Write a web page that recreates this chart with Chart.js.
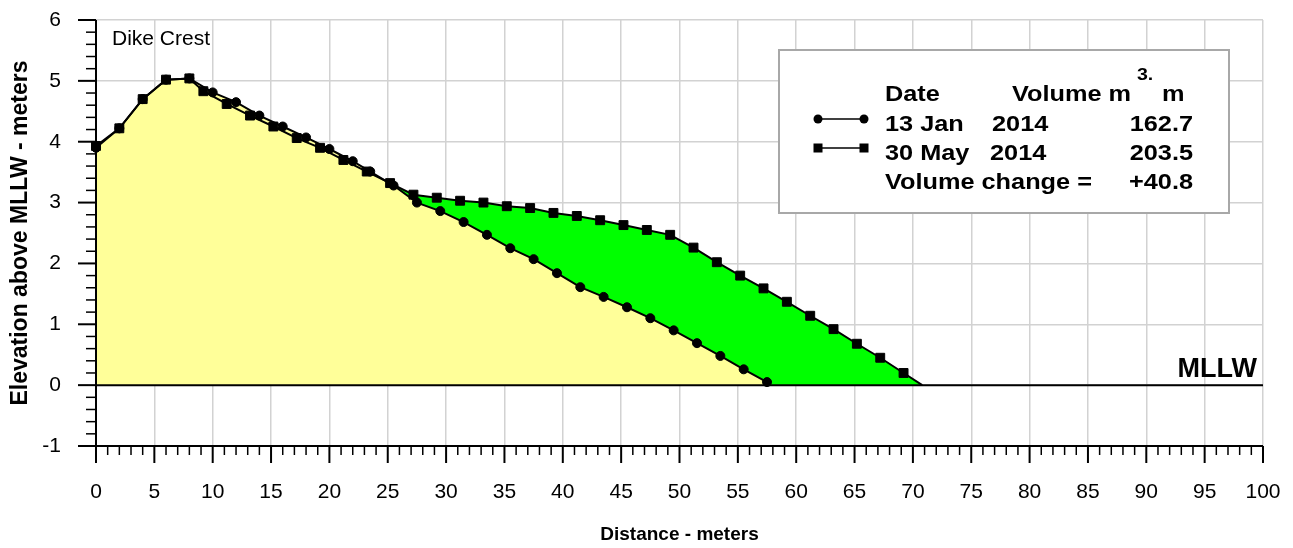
<!DOCTYPE html>
<html>
<head>
<meta charset="utf-8">
<script src="https://cdn.jsdelivr.net/npm/chart.js@4/dist/chart.umd.min.js"></script>
<style>
html,body{margin:0;padding:0;background:#fff;}
#wrap{width:1293px;height:548px;}
</style>
</head>
<body>
<div id="wrap"><canvas id="c" width="1293" height="548"></canvas></div>
<script>
// ---- data ----
const janX = [0,2,4,6,8,10,12,14,16,18,20,22,23.5,25.5,27.5,29.5,31.5,33.5,35.5,37.5,39.5,41.5,43.5,45.5,47.5,49.5,51.5,53.5,55.5,57.5];
const janY = [3.90,4.22,4.70,5.02,5.04,4.81,4.65,4.43,4.25,4.07,3.88,3.68,3.51,3.28,3.00,2.86,2.68,2.47,2.25,2.07,1.84,1.61,1.45,1.28,1.10,0.90,0.69,0.48,0.26,0.05];
const mayX = [0,2,4,6,8,9.2,11.2,13.2,15.2,17.2,19.2,21.2,23.2,25.2,27.2,29.2,31.2,33.2,35.2,37.2,39.2,41.2,43.2,45.2,47.2,49.2,51.2,53.2,55.2,57.2,59.2,61.2,63.2,65.2,67.2,69.2,70.8];
const mayY = [3.93,4.22,4.70,5.02,5.04,4.83,4.62,4.43,4.25,4.06,3.90,3.70,3.51,3.32,3.13,3.08,3.03,3.00,2.94,2.91,2.83,2.78,2.71,2.63,2.55,2.47,2.26,2.02,1.80,1.59,1.37,1.14,0.92,0.68,0.45,0.20,0.00];
const xTickLabels = [0,5,10,15,20,25,30,35,40,45,50,55,60,65,70,75,80,85,90,95,100];
const yTickLabels = [-1,0,1,2,3,4,5,6];
const legendDates = ['13 Jan', '30 May'];
const legendYears = ['2014', '2014'];
const legendVolumes = ['162.7', '203.5'];
const volumeChange = '+40.8';

const FONT = '"Liberation Sans", Arial, Helvetica, sans-serif';
const near = (a, b) => Math.abs(a - b) < 1e-6;
const isMajorX = v => xTickLabels.some(t => near(t, v));
const isMajorY = v => yTickLabels.some(t => near(t, v));
const pts = (xs, ys) => xs.map((x, i) => ({x: x, y: ys[i]}));

function txt(ctx, s, x, y, font, align, sx) {
  ctx.save();
  ctx.translate(x, y);
  ctx.scale(sx || 1, 1);
  ctx.font = font;
  ctx.textAlign = align || 'left';
  ctx.textBaseline = 'alphabetic';
  ctx.fillStyle = '#000';
  ctx.fillText(s, 0, 0);
  ctx.restore();
}

const decor = {
  id: 'decor',
  afterDraw(chart) {
    const ctx = chart.ctx, xs = chart.scales.x, ys = chart.scales.y, a = chart.chartArea;
    ctx.save();
    ctx.strokeStyle = '#000';
    const y0 = ys.getPixelForValue(0);
    ctx.lineWidth = 2;
    ctx.beginPath(); ctx.moveTo(xs.getPixelForValue(0), y0); ctx.lineTo(xs.getPixelForValue(100), y0); ctx.stroke();
    ctx.beginPath(); ctx.moveTo(a.left, a.top); ctx.lineTo(a.left, a.bottom); ctx.lineTo(a.right, a.bottom); ctx.stroke();
    xs.ticks.forEach(t => {
      const p = xs.getPixelForValue(t.value), m = isMajorX(t.value);
      ctx.lineWidth = m ? 2 : 1.5;
      ctx.beginPath(); ctx.moveTo(p, a.bottom); ctx.lineTo(p, a.bottom + (m ? 17 : 9)); ctx.stroke();
    });
    ys.ticks.forEach(t => {
      const p = ys.getPixelForValue(t.value), m = isMajorY(t.value);
      ctx.lineWidth = m ? 2 : 1.5;
      ctx.beginPath(); ctx.moveTo(a.left, p); ctx.lineTo(a.left - (m ? 18 : 10), p); ctx.stroke();
    });
    txt(ctx, 'MLLW', 1257, 377, 'bold 27px ' + FONT, 'right', 1);
    txt(ctx, 'Dike Crest', 112, 45, '21px ' + FONT, 'left', 1);
    ctx.fillStyle = '#fff';
    ctx.fillRect(779, 50, 450, 163);
    ctx.strokeStyle = '#a8a8a8';
    ctx.lineWidth = 2;
    ctx.strokeRect(779, 50, 450, 163);
    const LF = 'bold 22px ' + FONT, SX = 1.15;
    txt(ctx, 'Date', 885, 101, LF, 'left', SX);
    txt(ctx, 'Volume m', 1012, 101, LF, 'left', SX);
    txt(ctx, '3.', 1137, 80, 'bold 17px ' + FONT, 'left', SX);
    txt(ctx, 'm', 1162, 101, LF, 'left', SX);
    const rowsY = [131, 160];
    const yearX = [992, 990];
    for (let i = 0; i < 2; i++) {
      txt(ctx, legendDates[i], 885, rowsY[i], LF, 'left', SX);
      txt(ctx, legendYears[i], yearX[i], rowsY[i], LF, 'left', SX);
      txt(ctx, legendVolumes[i], 1193, rowsY[i], LF, 'right', SX);
      const my = rowsY[i] - 12;
      ctx.strokeStyle = '#000'; ctx.fillStyle = '#000'; ctx.lineWidth = 1.5;
      ctx.beginPath(); ctx.moveTo(818, my); ctx.lineTo(864, my); ctx.stroke();
      [818, 864].forEach(mx => {
        if (i === 0) { ctx.beginPath(); ctx.arc(mx, my, 4.5, 0, Math.PI * 2); ctx.fill(); }
        else { ctx.fillRect(mx - 4.5, my - 4.5, 9, 9); }
      });
    }
    txt(ctx, 'Volume change =', 885, 189, LF, 'left', SX);
    txt(ctx, volumeChange, 1193, 189, LF, 'right', SX);
    ctx.restore();
  }
};

const mayRadius = mayX.map((x, i) => i === mayX.length - 1 ? 0 : 6.3);

new Chart(document.getElementById('c'), {
  type: 'line',
  data: {
    datasets: [
      { label: 'janFill', data: pts(janX, janY), order: 3, fill: 'origin', backgroundColor: '#ffff99',
        borderColor: 'rgba(0,0,0,0)', borderWidth: 0, pointRadius: 0, tension: 0 },
      { label: 'mayFill', data: pts(mayX, mayY), order: 4, fill: 'origin', backgroundColor: '#00ff00',
        borderColor: 'rgba(0,0,0,0)', borderWidth: 0, pointRadius: 0, tension: 0 },
      { label: '13 Jan 2014', data: pts(janX, janY), order: 2, fill: false, borderColor: '#000', borderWidth: 2,
        pointStyle: 'circle', pointRadius: 4.5, pointBackgroundColor: '#000', pointBorderColor: '#000',
        pointBorderWidth: 1, tension: 0, clip: 12 },
      { label: '30 May 2014', data: pts(mayX, mayY), order: 1, fill: false, borderColor: '#000', borderWidth: 2,
        pointStyle: 'rect', pointRadius: mayRadius, pointBackgroundColor: '#000', pointBorderColor: '#000',
        pointBorderWidth: 1, tension: 0, clip: 12 }
    ]
  },
  options: {
    responsive: false,
    animation: false,
    layout: { padding: { top: 20, right: 30, left: 0, bottom: 0 } },
    plugins: {
      legend: { display: false },
      tooltip: { enabled: false },
      filler: { drawTime: 'beforeDatasetsDraw' }
    },
    scales: {
      x: {
        type: 'linear', min: 0, max: 100,
        afterFit: s => { s.height = 102; s.paddingLeft = 0; s.paddingRight = 0; },
        border: { display: false },
        grid: { drawTicks: false, lineWidth: 1.5,
          color: c => (c.tick && isMajorX(c.tick.value)) ? '#d2d2d2' : 'rgba(0,0,0,0)' },
        ticks: { stepSize: 1, autoSkip: false, maxRotation: 0, minRotation: 0, padding: 34,
          color: '#000', font: { family: FONT, size: 21 },
          callback: v => isMajorX(v) ? String(Math.round(v)) : '' },
        title: { display: true, text: 'Distance - meters', color: '#000',
          font: { family: FONT, size: 19, weight: 'bold' }, padding: { top: 0, bottom: 2 } }
      },
      y: {
        type: 'linear', min: -1, max: 6,
        afterFit: s => { s.width = 96; s.paddingTop = 0; s.paddingBottom = 0; },
        border: { display: false },
        grid: { drawTicks: false, lineWidth: 1.5,
          color: c => (c.tick && isMajorY(c.tick.value)) ? '#d2d2d2' : 'rgba(0,0,0,0)' },
        ticks: { stepSize: 0.2, autoSkip: false, padding: 35, color: '#000',
          font: { family: FONT, size: 21 },
          callback: v => isMajorY(v) ? String(Math.round(v)) : '' },
        title: { display: true, text: 'Elevation above MLLW - meters', color: '#000',
          font: { family: FONT, size: 23, weight: 'bold' }, padding: { top: 7, bottom: 0 } }
      }
    }
  },
  plugins: [decor]
});
</script>
</body>
</html>
